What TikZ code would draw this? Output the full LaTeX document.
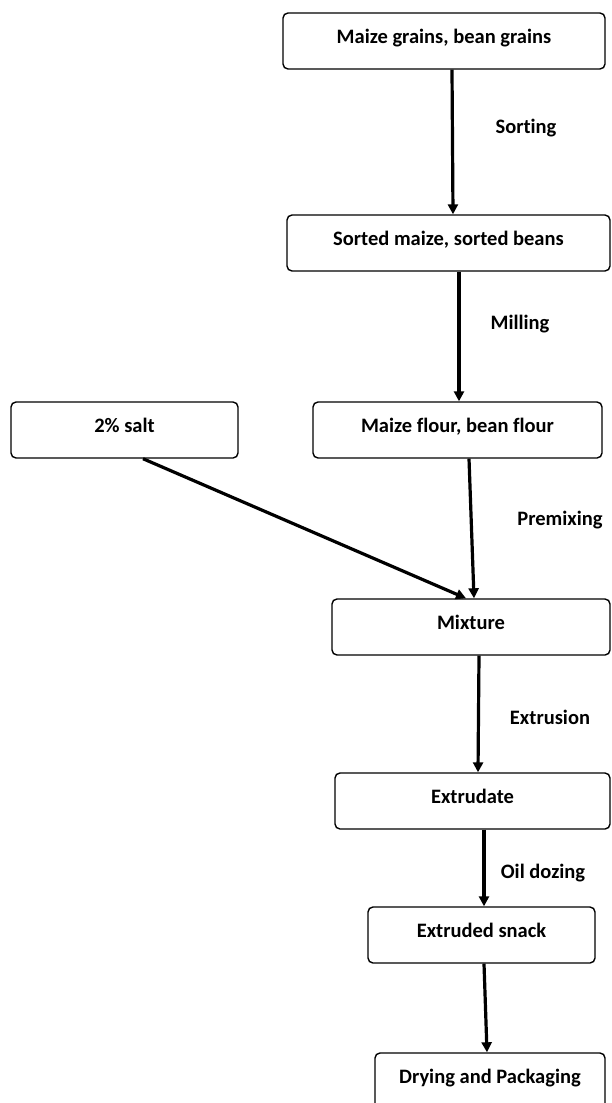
\documentclass[tikz,border=0pt]{standalone}
\usepackage{fontspec}
\setmainfont{Carlito}[Ligatures=NoCommon]
\usetikzlibrary{arrows.meta}
\begin{document}
\begin{tikzpicture}[x=1pt,y=-1pt,
  stagebox/.style={draw=black, line width=1.4pt, rounded corners=5pt,
    inner xsep=0pt, inner ysep=0pt, text height=30pt, text depth=26pt,
    font=\fontsize{20.5}{22}\selectfont\bfseries},
  steplabel/.style={inner sep=0pt, font=\fontsize{20.5}{22}\selectfont\bfseries},
  flow/.style={line width=3.2pt, -{Triangle[length=10pt,width=10pt]}}]
\useasboundingbox (0,0) rectangle (611,1103);
% process stages (centres at box middle, text sits in the upper half)
\node[stagebox, minimum width=322pt] (grains) at (444,41) {Maize grains, bean grains};
\node[stagebox, minimum width=323pt] (sorted) at (448.5,243) {Sorted maize, sorted beans};
\node[stagebox, minimum width=227pt] (salt) at (124.5,430) {2\% salt};
\node[stagebox, minimum width=289pt] (flour) at (457.5,430) {Maize flour, bean flour};
\node[stagebox, minimum width=278pt] (mix) at (471,627) {Mixture};
\node[stagebox, minimum width=275pt] (extrudate) at (472.5,801) {Extrudate};
\node[stagebox, minimum width=227pt] (snack) at (481.5,935) {Extruded snack};
\node[stagebox, minimum width=230pt] (pack) at (490,1081) {Drying and Packaging};
% unit operations
\node[steplabel] (lsort) at (526,128) {Sorting};
\node[steplabel] (lmill) at (520,324) {Milling};
\node[steplabel] (lpremix) at (560,520) {Premixing};
\node[steplabel] (lextr) at (550,717) {Extrusion};
\node[steplabel] (loil) at (543,873) {Oil dozing};
% flow arrows
\draw[flow] ([xshift=8pt]grains.south) -- ([xshift=4.5pt]sorted.north);
\draw[flow] ([xshift=10.5pt]sorted.south) -- ([xshift=1.5pt]flour.north);
\draw[flow] ([xshift=18.5pt]salt.south) -- ([xshift=-5pt]mix.north);
\draw[flow] ([xshift=11.5pt]flour.south) -- ([xshift=3pt]mix.north);
\draw[flow] ([xshift=8pt]mix.south) -- ([xshift=5.5pt]extrudate.north);
\draw[flow] ([xshift=11.5pt]extrudate.south) -- ([xshift=2.5pt]snack.north);
\draw[flow] ([xshift=2.5pt]snack.south) -- ([xshift=-3pt]pack.north);
\end{tikzpicture}
\end{document}
